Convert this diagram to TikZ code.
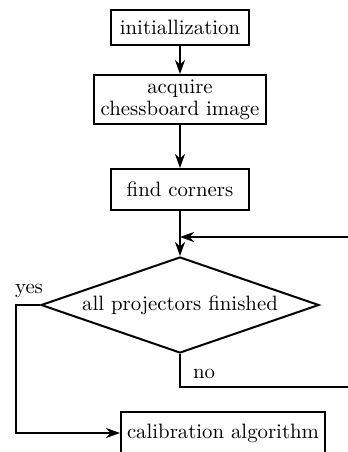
\documentclass[tikz,border=0pt]{standalone}
\usetikzlibrary{arrows.meta,shapes.geometric}
\begin{document}
\begin{tikzpicture}[x=0.5pt,y=-0.5pt,
  every node/.style={font=\fontsize{10.4}{11}\selectfont},
  box/.style={draw,line width=1pt,inner sep=0pt,align=center},
  dec/.style={draw,line width=1pt,shape=diamond,aspect=2.9,inner sep=0pt,minimum width=139pt,minimum height=48pt},
  conn/.style={line width=1pt},
  arr/.style={line width=1pt,-{Stealth[length=7pt,width=5pt,inset=2.2pt]}},
  lbl/.style={inner sep=0pt}]
\useasboundingbox (0,0) rectangle (348,452);
\clip (0,0) rectangle (348,452);
\node[box,minimum width=69pt,minimum height=17.5pt] (init) at (180,27.5) {initiallization};
\node[box,minimum width=86pt,minimum height=24.5pt] (acq) at (180,99.5) {acquire\\chessboard image};
\node[box,minimum width=69pt,minimum height=20.5pt] (find) at (180,189.5) {find corners};
\node[dec] (dia) at (180,305) {all projectors finished};
\node[box,minimum width=102pt,minimum height=21pt] (cal) at (223,433) {calibration algorithm};
\coordinate (nr) at (362,387);
\coordinate (tr) at (362,237);
\coordinate (yl) at (16,305);
\draw[arr] (init.south) -- (acq.north);
\draw[arr] (acq.south) -- (find.north);
\draw[arr] (find.south) -- (dia.north);
\draw[arr] (dia.south) |- (nr) -- (tr) -- (find.south |- tr);
\draw[arr] (dia.west) -- (yl) |- (cal.west);
\node[lbl] (yes) at (29,291) {yes};
\node[lbl] (no) at (204,374) {no};
\end{tikzpicture}
\end{document}
